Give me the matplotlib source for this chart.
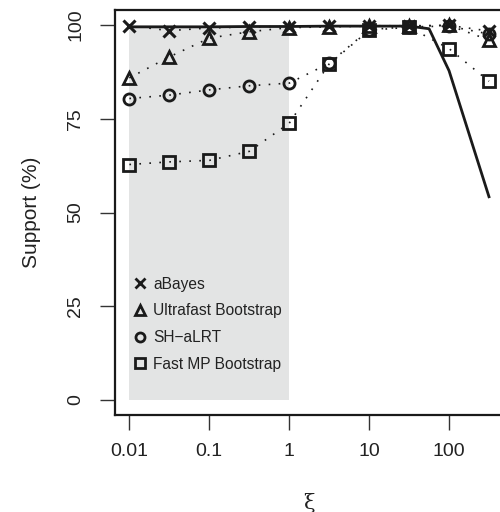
import numpy as np
import matplotlib
matplotlib.use("Agg")
import matplotlib.pyplot as plt
from matplotlib.lines import Line2D

plt.rcParams['font.family'] = ['Liberation Sans', 'DejaVu Sans']

xi = [0.01, 0.0316, 0.1, 0.316, 1, 3.16, 10, 31.6, 100, 316]
abayes = [99.8, 98.5, 99.2, 99.5, 99.6, 99.7, 99.8, 99.8, 99.9, 98.4]
ultrafast = [85.9, 91.5, 96.5, 98.2, 99.3, 99.5, 99.7, 99.7, 99.9, 96.0]
shalrt = [80.4, 81.3, 82.7, 83.8, 84.5, 89.8, 98.8, 99.5, 99.7, 97.6]
fastmp = [62.8, 63.5, 63.9, 66.3, 73.8, 89.6, 98.6, 99.4, 93.7, 85.0]

line_x = [0.01, 0.0316, 0.1, 0.316, 1, 3.16, 10, 31.6, 56.2, 100, 316]
line_y = [99.5, 99.5, 99.5, 99.6, 99.6, 99.7, 99.7, 99.7, 99.0, 87.8, 54.2]

labels = ["aBayes", "Ultrafast Bootstrap", "SH\u2212aLRT", "Fast MP Bootstrap"]
markers = ["x", "^", "o", "s"]

fig = plt.figure(figsize=(5.0, 5.12), dpi=100)
ax = fig.add_axes([115/500, 97/512, (503.4-115)/500, 405/512])

ax.fill_between([0.01, 1], [0, 0], [100, 100], color="#e3e4e4", lw=0, zorder=0)

ax.plot(line_x, line_y, color="#1a1a1a", lw=2, zorder=2)

series = [abayes, ultrafast, shalrt, fastmp]
for ys, m in zip(series, markers):
    ax.plot(xi, ys, color="#1a1a1a", lw=1.2, ls=(0, (1, 5)), zorder=2)
    ms = 8 if m != "^" else 9
    if m == "x":
        ax.plot(xi, ys, ls="none", marker=m, ms=8, mew=2.2, color="#1a1a1a", zorder=3)
    else:
        ax.plot(xi, ys, ls="none", marker=m, ms=ms, mew=2, mfc="none", mec="#1a1a1a", zorder=3)

ax.set_xscale("log")
lo, hi = -2.0, 2.5
pad = (hi - lo) * 0.04
ax.set_xlim(10 ** (lo - pad), 10 ** (hi + pad))
ax.set_ylim(-4, 104)
ax.set_xticks([0.01, 0.1, 1, 10, 100])
ax.set_xticklabels(["0.01", "0.1", "1", "10", "100"])
ax.xaxis.set_minor_locator(matplotlib.ticker.NullLocator())
ax.set_yticks([0, 25, 50, 75, 100])
ax.set_yticklabels(["0", "25", "50", "75", "100"], rotation=90, va="center")
ax.tick_params(axis="both", length=11, width=1, color="#333333", labelsize=14, labelcolor="#222222")
ax.tick_params(axis="x", pad=9)
ax.tick_params(axis="y", pad=11)
for s in ax.spines.values():
    s.set_linewidth(1.6)
    s.set_color("#1a1a1a")

ax.set_ylabel("Support (%)", fontsize=15, color="#222222", labelpad=19)
ax.set_xlabel("\u03be", fontsize=15, family=["DejaVu Serif"], color="#222222", labelpad=24)

handles = [Line2D([], [], ls="none", marker=m, ms=6.5, mew=2, color="#1a1a1a", mfc="none", mec="#1a1a1a")
           for m in markers]
leg = ax.legend(handles, labels, loc="upper left", bbox_to_anchor=(0.033, 0.357),
                frameon=False, fontsize=11.2, handlelength=0.8, handletextpad=0.45,
                labelspacing=0.75, borderaxespad=0)
for t in leg.get_texts():
    t.set_color("#222222")

fig.savefig("out.png", dpi=100)
